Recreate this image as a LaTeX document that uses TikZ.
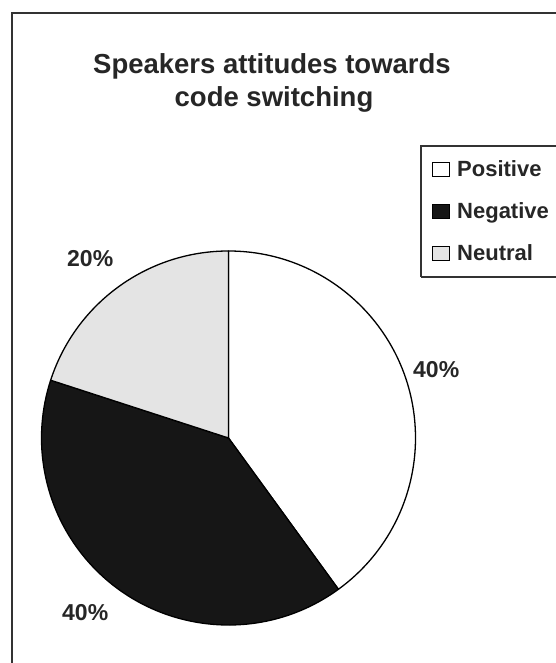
\documentclass[tikz,border=0pt]{standalone}
\usepackage{fontspec}
\setmainfont{Liberation Sans}
\usetikzlibrary{positioning}
\definecolor{pieBlack}{HTML}{161616}
\definecolor{pieGrey}{HTML}{E4E4E4}
\definecolor{frameGrey}{HTML}{333333}

\begin{document}
\begin{tikzpicture}[x=1pt, y=1pt,
      slice/.style={draw=black, line width=1.3pt, line join=round},
      ttl/.style={font=\fontsize{27.5}{33}\selectfont\bfseries, color=black!85, inner sep=0pt, anchor=base},
      pct/.style={font=\fontsize{23}{26}\selectfont\bfseries, color=black!85, inner sep=0pt, anchor=base west},
      key/.style={draw=black, line width=0.9pt, minimum width=17pt, minimum height=14pt, inner sep=0pt},
      keytxt/.style={font=\fontsize{22}{26}\selectfont\bfseries, color=black!85, inner sep=0pt, anchor=base west}]
    \useasboundingbox (0,0) rectangle (555,663);
    \fill[white] (0,0) rectangle (555,663);
    % chart frame, cut by the page edge
    \draw[frameGrey, line width=1.5pt] (12,-5) -- (12,650) -- (560,650);
    % title
    \node[ttl] (title1) at (272,589) {Speakers attitudes towards};
    \node[ttl] (title2) at (274,556) {code switching};
    % pie
    \coordinate (c) at (228.5,225);
    \filldraw[slice, fill=white] (c) -- ++(90:187) arc[start angle=90, end angle=-54, radius=187] -- cycle;
    \filldraw[slice, fill=pieBlack] (c) -- ++(-54:187) arc[start angle=-54, end angle=-198, radius=187] -- cycle;
    \filldraw[slice, fill=pieGrey] (c) -- ++(162:187) arc[start angle=162, end angle=90, radius=187] -- cycle;
    % percentages
    \node[pct] (posval) at (413,285) {40\%};
    \node[pct] (negval) at (62,42) {40\%};
    \node[pct] (neuval) at (67,396) {20\%};
    % legend
    \draw[frameGrey, line width=1.3pt] (421,386) -- (421,517) -- (560,517);
    \draw[frameGrey, line width=1.3pt] (421,386) -- (560,386);
    \node[key, fill=white] (poskey) at (441,494) {};
    \node[key, fill=pieBlack] (negkey) at (441,452) {};
    \node[key, fill=pieGrey] (neukey) at (441,410) {};
    \node[keytxt] (postxt) at (457,486) {Positive};
    \node[keytxt] (negtxt) at (457,444) {Negative};
    \node[keytxt] (neutxt) at (457,402) {Neutral};
  \end{tikzpicture}
\end{document}
